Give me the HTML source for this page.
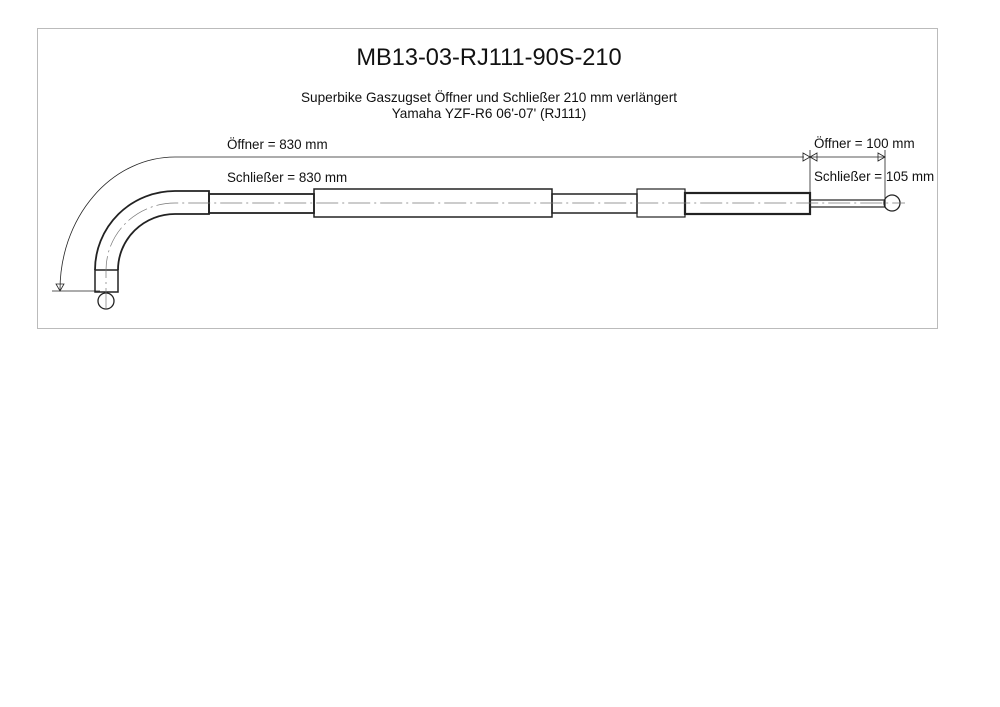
<!DOCTYPE html>
<html><head><meta charset="utf-8"><style>html,body{margin:0;padding:0;background:#fff}svg{display:block}</style></head><body>
<svg width="1000" height="707" viewBox="0 0 1000 707" xmlns="http://www.w3.org/2000/svg" font-family="Liberation Sans, Arial, sans-serif">
<rect x="37.5" y="28.5" width="900" height="300" fill="none" stroke="#bbb" stroke-width="1"/>
<text x="489" y="65" font-size="23.6" text-anchor="middle" fill="#111">MB13-03-RJ111-90S-210</text>
<text x="489" y="102" font-size="13.6" text-anchor="middle" fill="#111">Superbike Gaszugset Öffner und Schließer 210 mm verlängert</text>
<text x="489" y="118" font-size="13.6" text-anchor="middle" fill="#111">Yamaha YZF-R6 06'-07' (RJ111)</text>
<text x="227" y="149" font-size="13.4" fill="#111">Öffner = 830 mm</text>
<text x="227" y="182" font-size="13.4" fill="#111">Schließer = 830 mm</text>
<text x="814" y="148" font-size="13.4" fill="#111">Öffner = 100 mm</text>
<text x="814" y="181" font-size="13.4" fill="#111">Schließer = 105 mm</text>
<g fill="none" stroke="#222">
<path d="M60 290 A115 133 0 0 1 175 157 L804 157" stroke-width="0.8"/>
<path d="M56 284 L64 284 L60 291 Z" stroke-width="0.8"/>
<line x1="52" y1="291" x2="100" y2="291" stroke-width="0.8"/>
<path d="M803 153 L803 161 L810 157 Z" stroke-width="0.8"/>
<line x1="810" y1="150" x2="810" y2="200" stroke-width="0.8"/>
<line x1="885" y1="150" x2="885" y2="205" stroke-width="0.8"/>
<line x1="810" y1="157" x2="885" y2="157" stroke-width="0.8"/>
<path d="M817 153 L817 161 L810 157 Z" stroke-width="0.8"/>
<path d="M878 153 L878 161 L885 157 Z" stroke-width="0.8"/>
<path d="M95 270 A80 79 0 0 1 175 191 L209 191 L209 214 L175 214 A57 56 0 0 0 118 270" stroke-width="1.8"/>
<rect x="95" y="270" width="23" height="22" stroke-width="1.5"/>
<circle cx="106" cy="301" r="8" stroke-width="1.3"/>
<rect x="209" y="194" width="105" height="19" stroke-width="1.8"/>
<rect x="314" y="189" width="238" height="28" stroke-width="1.5"/>
<rect x="552" y="194" width="85" height="19" stroke-width="1.5"/>
<rect x="637" y="189" width="48" height="28" stroke-width="1.2"/>
<rect x="685" y="193" width="125" height="21" stroke-width="2.2"/>
<rect x="810" y="200" width="75" height="7" stroke-width="1.2"/>
<circle cx="892" cy="203" r="8" stroke-width="1.3"/>
<path d="M106 310 L106 270 A69 67 0 0 1 175 203 L905 203" stroke="#777" stroke-width="0.7" stroke-dasharray="22 4 2 4"/>
</g>
</svg>
</body></html>
